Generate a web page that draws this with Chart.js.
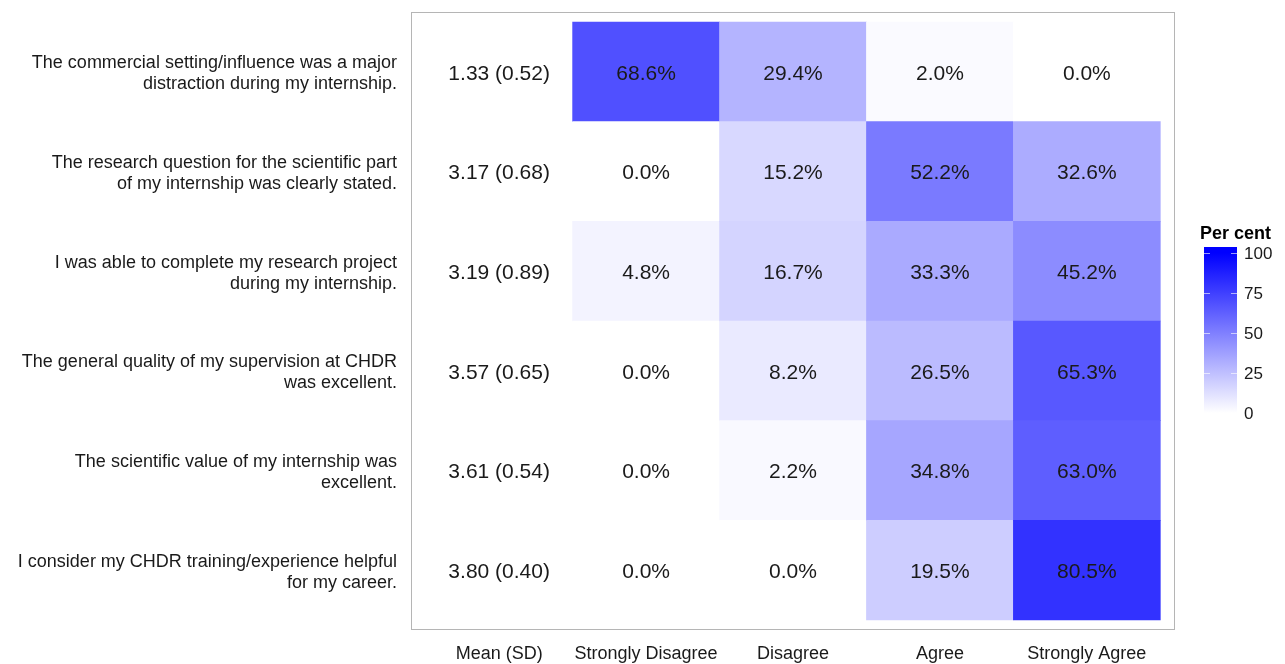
<!DOCTYPE html>
<html>
<head>
<meta charset="utf-8">
<script src="https://cdn.jsdelivr.net/npm/chart.js@4.4.1/dist/chart.umd.min.js"></script>
<style>
  body { margin: 0; background: #fff; }
  #wrap { width: 1285px; height: 664px; }
</style>
</head>
<body>
<div id="wrap"><canvas id="heat" width="1285" height="664"></canvas></div>
<script>
// survey statements (rows, top to bottom)
const questions = [
    ['The commercial setting/influence was a major', 'distraction during my internship.'],
    ['The research question for the scientific part', 'of my internship was clearly stated.'],
    ['I was able to complete my research project', 'during my internship.'],
    ['The general quality of my supervision at CHDR', 'was excellent.'],
    ['The scientific value of my internship was', 'excellent.'],
    ['I consider my CHDR training/experience helpful', 'for my career.']
];
const columnLabels = ['Mean (SD)', 'Strongly Disagree', 'Disagree', 'Agree', 'Strongly Agree'];

const means = [1.33, 3.17, 3.19, 3.57, 3.61, 3.80];
const sds = [0.52, 0.68, 0.89, 0.65, 0.54, 0.40];

// per cent of answers per response column
const stronglyDisagree = [68.6, 0.0, 4.8, 0.0, 0.0, 0.0];
const disagree = [29.4, 15.2, 16.7, 8.2, 2.2, 0.0];
const agree = [2.0, 52.2, 33.3, 26.5, 34.8, 19.5];
const stronglyAgree = [0.0, 32.6, 45.2, 65.3, 63.0, 80.5];

const legendTicks = [0, 25, 50, 75, 100];

const FONT = "'Liberation Sans', Arial, sans-serif";
const responses = [stronglyDisagree, disagree, agree, stronglyAgree];

function fillFor(v) {
    const c = Math.round(255 * (1 - v / 100));
    return `rgb(${c},${c},255)`;
}

// one tile per (response, question); x = column, y spans the row
const cells = [];
responses.forEach((values, c) => {
    values.forEach((v, r) => {
        cells.push({ x: c + 2, y: [r + 0.5, r + 1.5], v: v });
    });
});

const cellText = {
    id: 'cellText',
    afterDatasetsDraw(chart) {
        const { ctx, chartArea, scales } = chart;
        const x = scales.x, y = scales.y;
        ctx.save();

        // panel border
        ctx.strokeStyle = '#b5b5b5';
        ctx.lineWidth = 1;
        ctx.strokeRect(chartArea.left + 0.5, chartArea.top + 0.5,
            chartArea.right - chartArea.left - 1, chartArea.bottom - chartArea.top - 1);

        ctx.fillStyle = '#1a1a1a';
        ctx.font = `21px ${FONT}`;
        ctx.textAlign = 'center';
        ctx.textBaseline = 'middle';

        // middle baseline sits a bit high for this font
        const nudge = 2;
        means.forEach((m, r) => {
            ctx.fillText(`${m.toFixed(2)} (${sds[r].toFixed(2)})`,
                x.getPixelForValue(1), y.getPixelForValue(r + 1) + nudge);
        });
        responses.forEach((values, c) => {
            values.forEach((v, r) => {
                ctx.fillText(v.toFixed(1) + '%', x.getPixelForValue(c + 2), y.getPixelForValue(r + 1) + nudge);
            });
        });

        // colour bar legend
        const barL = 1204, barR = 1237, y0 = 413, y100 = 253;
        const grad = ctx.createLinearGradient(0, y0, 0, y100);
        grad.addColorStop(0, fillFor(0));
        grad.addColorStop(1, fillFor(100));
        ctx.fillStyle = grad;
        ctx.fillRect(barL, y100 - 6, barR - barL, y0 - y100 + 12);

        ctx.fillStyle = '#000';
        ctx.font = `bold 18px ${FONT}`;
        ctx.textAlign = 'left';
        ctx.fillText('Per cent', 1200, 234);

        ctx.font = `17px ${FONT}`;
        ctx.fillStyle = '#1a1a1a';
        ctx.strokeStyle = 'rgba(255,255,255,0.6)';
        legendTicks.forEach(t => {
            const ty = Math.round(y0 - (y0 - y100) * t / 100) + 0.5;
            if (t > 0) {
                ctx.beginPath();
                ctx.moveTo(barL, ty); ctx.lineTo(barL + 6, ty);
                ctx.moveTo(barR - 6, ty); ctx.lineTo(barR, ty);
                ctx.stroke();
            }
            ctx.fillText(String(t), 1244, ty + 1);
        });
        ctx.restore();
    }
};

new Chart(document.getElementById('heat'), {
    type: 'bar',
    data: {
        datasets: [{
            data: cells,
            backgroundColor: ctx => fillFor(ctx.raw ? ctx.raw.v : 0),
            borderWidth: 0,
            barPercentage: 1,
            categoryPercentage: 1
        }]
    },
    options: {
        responsive: false,
        animation: false,
        layout: { padding: { top: 12, right: 110, bottom: 0, left: 0 } },
        plugins: {
            legend: { display: false },
            tooltip: { enabled: false }
        },
        scales: {
            x: {
                type: 'linear',
                min: 0.4,
                max: 5.6,
                offset: false,
                grid: { display: false, drawTicks: false, offset: false },
                border: { display: false },
                afterBuildTicks: axis => { axis.ticks = columnLabels.map((_, i) => ({ value: i + 1 })); },
                afterFit: axis => {
                    axis.height = 34;
                    axis.paddingLeft = 0;
                    axis.paddingRight = 0;
                },
                ticks: {
                    padding: 13,
                    color: '#1a1a1a',
                    font: { family: FONT, size: 18 },
                    autoSkip: false,
                    maxRotation: 0,
                    callback: v => columnLabels[Math.round(v) - 1]
                }
            },
            y: {
                type: 'linear',
                reverse: true,
                min: 0.4,
                max: 6.6,
                grid: { display: false, drawTicks: false },
                border: { display: false },
                afterBuildTicks: axis => { axis.ticks = questions.map((_, i) => ({ value: i + 1 })); },
                afterFit: axis => {
                    axis.width = 411;
                    axis.paddingTop = 0;
                    axis.paddingBottom = 0;
                },
                ticks: {
                    padding: 14,
                    labelOffset: 2,
                    color: '#1a1a1a',
                    font: { family: FONT, size: 18, lineHeight: 1.17 },
                    autoSkip: false,
                    callback: v => questions[Math.round(v) - 1]
                }
            }
        }
    },
    plugins: [cellText]
});
</script>
</body>
</html>
